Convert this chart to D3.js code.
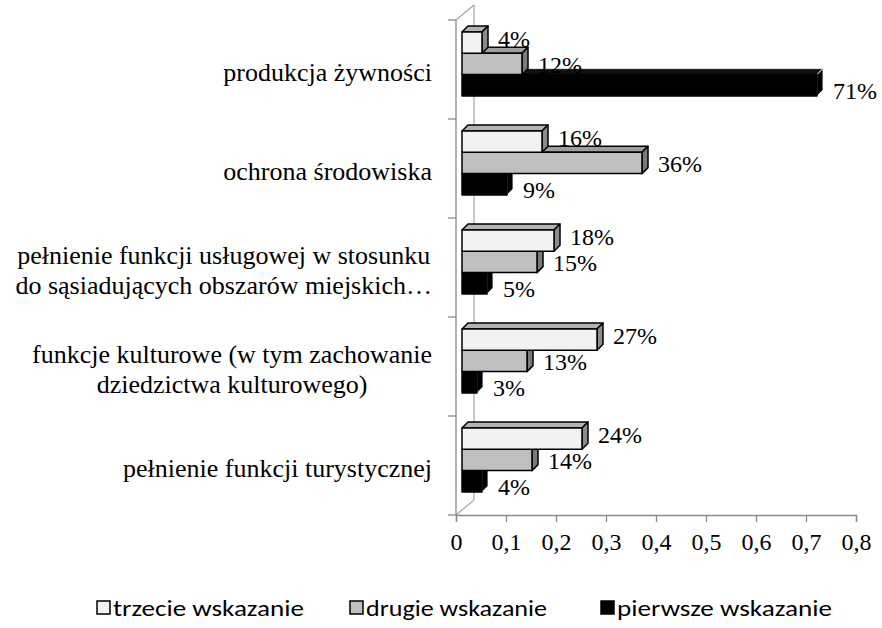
<!DOCTYPE html>
<html><head><meta charset="utf-8">
<script src="https://cdn.jsdelivr.net/npm/d3@7/dist/d3.min.js"></script>
<style>body{margin:0;background:#fff}svg{display:block}</style>
</head><body><svg id="c" width="882" height="628"></svg>
<script>
const categories = [
  ["produkcja żywności"],
  ["ochrona środowiska"],
  ["pełnienie funkcji usługowej w stosunku", "do sąsiadujących obszarów miejskich…"],
  ["funkcje kulturowe (w tym zachowanie", "dziedzictwa kulturowego)"],
  ["pełnienie funkcji turystycznej"]
];
const seriesNames = ["trzecie wskazanie", "drugie wskazanie", "pierwsze wskazanie"];
const trzecie  = [0.04, 0.16, 0.184, 0.27, 0.24];
const drugie   = [0.12, 0.36, 0.15, 0.13, 0.14];
const pierwsze = [0.71, 0.09, 0.05, 0.03, 0.04];
const xTicks = [0, 0.1, 0.2, 0.3, 0.4, 0.5, 0.6, 0.7, 0.8];

const seriesValues = [trzecie, drugie, pierwsze];
const colors = [
  {front:"#f2f2f2", top:"#b3b3b3", side:"#8c8c8c"},
  {front:"#bfbfbf", top:"#9e9e9e", side:"#7a7a7a"},
  {front:"#000000", top:"#111111", side:"#000000"}
];

const svg = d3.select("#c");
const serif = "'Liberation Serif','Times New Roman',serif";
const x = d3.scaleLinear().domain([0, 0.8]).range([456, 856]);
const y = d3.scaleBand().domain(d3.range(categories.length)).range([20, 515]).padding(0);
const dx = 6, dy = 6;
const wallDx = 18, wallDy = 15;
const barH = 21.3;
const groupPad = 18;

const axisColor = "#8a8a8a";
const g0 = svg.append("g").attr("stroke", "#a6a6a6").attr("fill", "none").attr("stroke-width", 1.2);
g0.append("line").attr("x1", x(0)+wallDx).attr("y1", 20-wallDy).attr("x2", x(0)+wallDx).attr("y2", 515-wallDy);
g0.append("line").attr("x1", x(0)).attr("y1", 20).attr("x2", x(0)+wallDx).attr("y2", 20-wallDy);
g0.append("line").attr("x1", x(0)).attr("y1", 515).attr("x2", x(0)+wallDx).attr("y2", 515-wallDy);

const ga = svg.append("g").attr("stroke", axisColor).attr("stroke-width", 1.3);
ga.append("line").attr("x1", x(0)).attr("y1", 20).attr("x2", x(0)).attr("y2", 515);
const yb = d3.range(categories.length + 1).map(i => i < categories.length ? y(i) : y(categories.length-1) + y.bandwidth());
ga.selectAll(".yt").data(yb).join("line")
  .attr("x1", x(0)-8).attr("x2", x(0)).attr("y1", d => d).attr("y2", d => d);

const xAxis = d3.axisBottom(x).tickValues(xTicks).tickSize(7).tickPadding(11)
  .tickFormat(d => d === 0 ? "0" : d3.format(".1f")(d).replace(".", ","));
const gx = svg.append("g").attr("transform", "translate(0,515)").call(xAxis);
gx.select(".domain").attr("stroke", axisColor).attr("stroke-width", 1.3);
gx.selectAll(".tick line").attr("stroke", axisColor).attr("stroke-width", 1.3);
gx.selectAll(".tick text").attr("font-family", serif).attr("font-size", 24).attr("fill", "#000");

const bars = svg.append("g");
const labels = svg.append("g");
categories.forEach((cat, ci) => {
  for (let si = seriesValues.length - 1; si >= 0; si--) {
    const v = seriesValues[si][ci];
    const c = colors[si];
    const x0 = x(0) + dx, x1 = x(v) + dx;
    const top = y(ci) + groupPad - dy + si * barH;
    const bot = top + barH;
    const g = bars.append("g").attr("stroke-linejoin", "round");
    const blk = si === 2;
    g.append("polygon").attr("points", [[x0,top],[x0+dx,top-dy],[x1+dx,top-dy],[x1,top]].join(" "))
      .attr("fill", c.top).attr("stroke", blk?"#fff":"#000").attr("stroke-width", blk?0.8:1.5);
    g.append("polygon").attr("points", [[x1,top],[x1+dx,top-dy],[x1+dx,bot-dy],[x1,bot]].join(" "))
      .attr("fill", c.side).attr("stroke", blk?"#fff":"#000").attr("stroke-width", blk?0.8:1.5);
    g.append("rect").attr("x", x0).attr("y", top).attr("width", x1-x0).attr("height", barH)
      .attr("fill", c.front).attr("stroke", "#000").attr("stroke-width", 1.5);
    labels.append("text").attr("x", x1 + dx + 10).attr("y", (top+bot)/2 + (si - 1) * 5 + 1)
      .attr("dominant-baseline", "central")
      .attr("font-family", serif).attr("font-size", 24).attr("fill", "#000")
      .text(d3.format(".0%")(v));
  }
});

categories.forEach((lines, ci) => {
  const cy = y(ci) + y.bandwidth()/2 + 3;
  const lh = 30;
  const tg = svg.append("g");
  const ts = lines.map((l, li) => tg.append("text")
    .attr("font-family", serif).attr("font-size", 26).attr("fill", "#000")
    .attr("text-anchor", "middle")
    .attr("y", cy + (li - (lines.length-1)/2) * lh)
    .attr("dominant-baseline", "central").text(l));
  const widths = ts.map(t => t.node().getComputedTextLength());
  const w = d3.max(widths);
  ts.forEach(t => t.attr("x", 432 - w/2));
});

const sans = "Carlito, Lato, 'Liberation Sans', sans-serif";
const legendX = [97, 350, 601];
const legendW = [191, 181, 215];
const lg = svg.append("g");
seriesNames.forEach((n, i) => {
  lg.append("rect").attr("x", legendX[i]).attr("y", 601).attr("width", 13).attr("height", 13)
    .attr("fill", colors[i].front).attr("stroke", "#000").attr("stroke-width", 1.5);
  lg.append("text").attr("x", legendX[i] + 16).attr("y", 608)
    .attr("dominant-baseline", "central")
    .attr("font-family", sans).attr("font-size", 23).attr("fill", "#000")
    .attr("textLength", legendW[i]).attr("lengthAdjust", "spacingAndGlyphs")
    .text(n);
});
</script></body></html>
